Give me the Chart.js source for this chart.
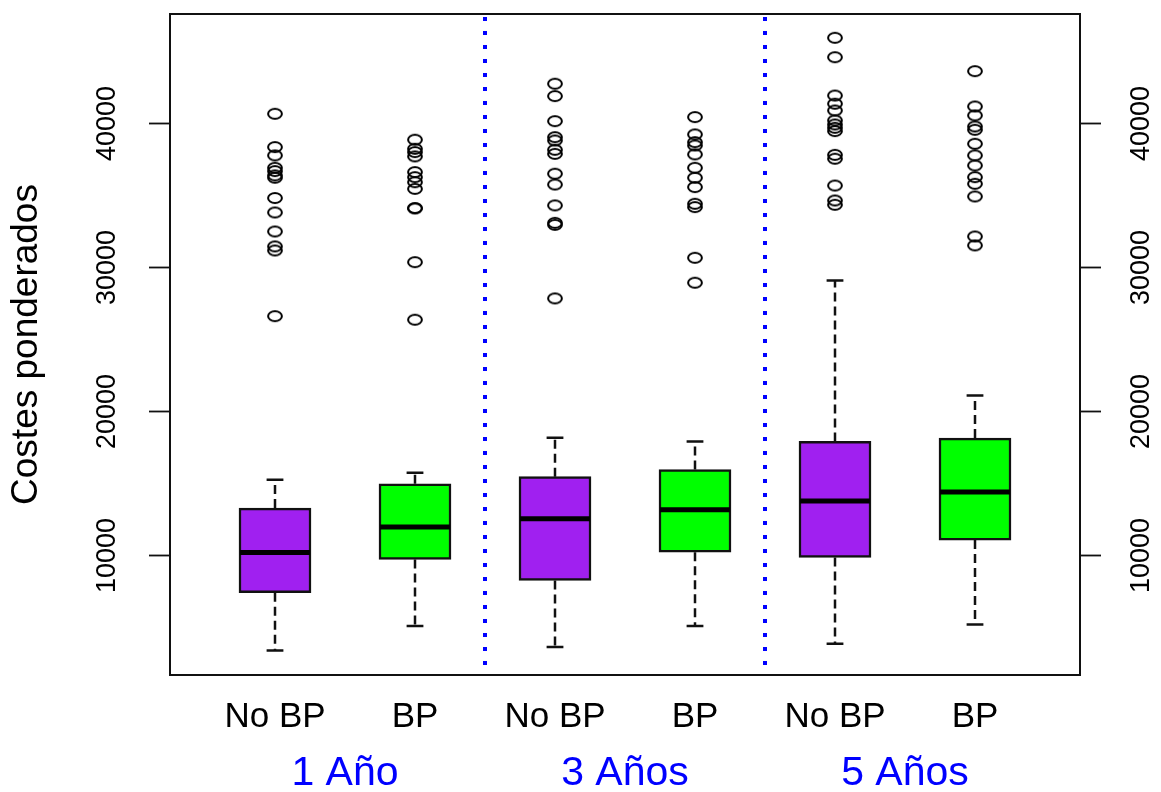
<!DOCTYPE html>
<html><head><meta charset="utf-8">
<script src="https://cdn.jsdelivr.net/npm/chart.js@4/dist/chart.umd.min.js"></script>
<style>html,body{margin:0;padding:0;background:#fff;}canvas{display:block;}</style>
</head><body>
<canvas id="c" width="1161" height="792"></canvas>
<script>
// ---- data ----
const categories = ['No BP', 'BP', 'No BP', 'BP', 'No BP', 'BP'];
const positions = [1, 2, 3, 4, 5, 6];
const groups = ['1 Año', '3 Años', '5 Años'];
const groupPositions = [1.5, 3.5, 5.5];
const separators = [2.5, 4.5];
const yTicks = [10000, 20000, 30000, 40000];
const yRange = [1700, 47600];

const lowWhisker  = [3400, 5100, 3650, 5100, 3870, 5200];
const q1          = [7410, 9720, 8260, 10230, 9860, 11070];
const median      = [10210, 11970, 12550, 13170, 13780, 14400];
const q3          = [13290, 14980, 15470, 15970, 17920, 18150];
const highWhisker = [15260, 15740, 18170, 17920, 29100, 21110];

const outNoBP1 = [40670, 38360, 37780, 36920, 36690, 36390, 36230, 34820, 33820, 32500, 31460, 31180, 26620];
const outBP1   = [38870, 38240, 38010, 37710, 36620, 36270, 35920, 35460, 34120, 34100, 30370, 26370];
const outNoBP3 = [42760, 41900, 40160, 39050, 38820, 38170, 37890, 36510, 35760, 34310, 33100, 32960, 27850];
const outBP3   = [40440, 39240, 38700, 38470, 37850, 36920, 36230, 35580, 34420, 34190, 30670, 28940];
const outNoBP5 = [45950, 44600, 41940, 41370, 40900, 40210, 39930, 39700, 39470, 37820, 37550, 35690, 34650, 34350];
const outBP5   = [43630, 41180, 40560, 39790, 39560, 38590, 37780, 37080, 36270, 35810, 34930, 32150, 31530];
const outliers = [outNoBP1, outBP1, outNoBP3, outBP3, outNoBP5, outBP5];

// ---- styles ----
const PURPLE = '#A020F0', GREEN = '#00FF00', INK = '#111';
const FONT = '"Liberation Sans", Arial, sans-serif';
const halfBox = 0.25, halfCap = 0.06;

// ---- derived datasets ----
const noBPIdx = [0, 2, 4], bpIdx = [1, 3, 5];
const boxData = idx => idx.map(i => ({x: positions[i], y: [q1[i], q3[i]]}));
const whiskerData = [];
const capData = [];
const medianData = [];
positions.forEach((p, i) => {
  whiskerData.push({x: p, y: q3[i]}, {x: p, y: highWhisker[i]}, {x: p, y: null},
                   {x: p, y: q1[i]}, {x: p, y: lowWhisker[i]}, {x: p, y: null});
  capData.push({x: p - halfCap, y: highWhisker[i]}, {x: p + halfCap, y: highWhisker[i]}, {x: p, y: null},
               {x: p - halfCap, y: lowWhisker[i]}, {x: p + halfCap, y: lowWhisker[i]}, {x: p, y: null});
  medianData.push({x: p - halfBox, y: median[i]}, {x: p + halfBox, y: median[i]}, {x: p, y: null});
});
const outlierData = [];
outliers.forEach((arr, i) => arr.forEach(v => outlierData.push({x: positions[i], y: v})));

// open ellipse marker (as in reference)
const marker = document.createElement('canvas');
marker.width = 22; marker.height = 18;
(() => {
  const m = marker.getContext('2d');
  m.strokeStyle = '#000'; m.lineWidth = 2;
  m.beginPath(); m.ellipse(11, 9, 6.9, 5, 0, 0, Math.PI * 2); m.stroke();
})();

const rPlugin = {
  id: 'rstyle',
  beforeDatasetsDraw(chart) {
    const {ctx, chartArea: a, scales: {x}} = chart;
    ctx.save();
    ctx.strokeStyle = '#0000FF'; ctx.lineWidth = 4; ctx.setLineDash([4, 10]);
    separators.forEach(v => {
      const px = Math.round(x.getPixelForValue(v));
      ctx.beginPath(); ctx.moveTo(px, a.top + 3); ctx.lineTo(px, a.bottom); ctx.stroke();
    });
    ctx.restore();
  },
  afterDraw(chart) {
    const {ctx, chartArea: a, scales} = chart;
    ctx.save();
    ctx.strokeStyle = INK; ctx.lineWidth = 2;
    ctx.strokeRect(a.left, a.top, a.right - a.left, a.bottom - a.top);
    ctx.fillStyle = '#000';
    ctx.font = '27px ' + FONT;
    ctx.textAlign = 'center'; ctx.textBaseline = 'middle';
    [['y', a.left - 62], ['y2', a.right + 62]].forEach(([id, cx]) => {
      const s = scales[id];
      yTicks.forEach(v => {
        const py = s.getPixelForValue(v);
        ctx.save(); ctx.translate(cx, py); ctx.rotate(-Math.PI / 2);
        ctx.fillText(String(v), 0, 0); ctx.restore();
      });
    });
    ctx.restore();
  }
};

const yAxis = (pos, width, title) => ({
  type: 'linear', position: pos, min: yRange[0], max: yRange[1],
  afterBuildTicks: s => { s.ticks = yTicks.map(v => ({value: v})); },
  afterFit: s => { s.width = width; },
  ticks: {display: false},
  grid: {display: true, drawOnChartArea: false, drawTicks: true, tickLength: 21, tickColor: INK, tickWidth: 1.8},
  border: {display: false},
  title: title ? {display: true, text: title, color: '#000', font: {family: FONT, size: 37}, padding: {top: 5, bottom: 0}} : {display: false}
});

new Chart(document.getElementById('c'), {
  type: 'scatter',
  data: {
    datasets: [
      {type: 'line', data: whiskerData, showLine: true, borderColor: INK, borderWidth: 2.5, borderDash: [9, 5],
       pointRadius: 0, fill: false, spanGaps: false, order: 5},
      {type: 'line', data: capData, showLine: true, borderColor: INK, borderWidth: 2.5,
       pointRadius: 0, fill: false, spanGaps: false, order: 5},
      {type: 'bar', data: boxData(noBPIdx), backgroundColor: PURPLE, borderColor: INK, borderWidth: 2.5,
       borderSkipped: false, barThickness: 72, grouped: false, order: 3},
      {type: 'bar', data: boxData(bpIdx), backgroundColor: GREEN, borderColor: INK, borderWidth: 2.5,
       borderSkipped: false, barThickness: 72, grouped: false, order: 3},
      {type: 'line', data: medianData, showLine: true, borderColor: '#000', borderWidth: 5, borderCapStyle: 'butt',
       pointRadius: 0, fill: false, spanGaps: false, order: 1},
      {type: 'scatter', data: outlierData, pointStyle: marker, pointRadius: 7, order: 2}
    ]
  },
  options: {
    responsive: false, animation: false, devicePixelRatio: 1,
    layout: {padding: {top: 14, left: 0, right: 0, bottom: 0}},
    plugins: {legend: {display: false}, tooltip: {enabled: false}},
    scales: {
      x: {
        type: 'linear', position: 'bottom', min: 0.25, max: 6.75, offset: false,
        afterBuildTicks: s => { s.ticks = positions.map(v => ({value: v})); },
        afterFit: s => { s.height = 62; },
        ticks: {autoSkip: false, maxRotation: 0, padding: 21, color: '#000',
                font: {family: FONT, size: 35},
                callback: (v, i) => categories[i]},
        grid: {display: false, drawTicks: false}, border: {display: false}
      },
      x2: {
        type: 'linear', position: 'bottom', min: 0.25, max: 6.75, offset: false,
        afterBuildTicks: s => { s.ticks = groupPositions.map(v => ({value: v})); },
        afterFit: s => { s.height = 55; },
        ticks: {autoSkip: false, maxRotation: 0, padding: 12, color: '#0000FF',
                font: {family: FONT, size: 41},
                callback: (v, i) => groups[i]},
        grid: {display: false, drawTicks: false}, border: {display: false}
      },
      y: yAxis('left', 170, 'Costes ponderados'),
      y2: yAxis('right', 81, null)
    }
  },
  plugins: [rPlugin]
});
</script>
</body></html>
